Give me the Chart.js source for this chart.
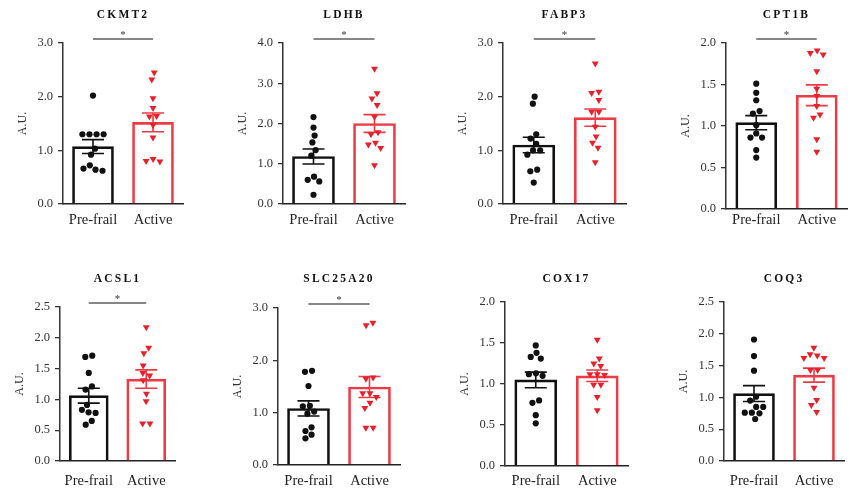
<!DOCTYPE html>
<html><head><meta charset="utf-8">
<script src="https://cdn.jsdelivr.net/npm/chart.js@4.4.1/dist/chart.umd.min.js"></script>
<style>
html,body{margin:0;padding:0;background:#fff;overflow:hidden;width:850px;height:492px;position:relative}
canvas{position:absolute}
</style></head><body>
<script>
// ---------- DATA ----------
const genes = ['CKMT2','LDHB','FABP3','CPT1B','ACSL1','SLC25A20','COX17','COQ3'];
const groups = ['Pre-frail','Active'];
const ckmt2Pre = [2.02,1.30,1.30,1.30,1.30,1.03,0.92,0.72,0.66,0.64,0.62];
const ckmt2Act = [2.45,2.32,1.97,1.79,1.64,1.63,1.47,1.24,0.84,0.79,0.80];
const ldhbPre = [2.16,1.90,1.70,1.53,1.34,1.20,0.68,0.60,0.56,0.23];
const ldhbAct = [3.36,2.75,2.62,2.46,2.17,1.78,1.73,1.52,1.48,1.39,0.96];
const fabp3Pre = [2.00,1.87,1.30,1.22,1.12,1.00,1.00,0.92,0.64,0.61,0.40];
const fabp3Act = [2.62,2.09,2.07,1.94,1.72,1.72,1.44,1.26,1.14,1.05,0.78];
const cpt1bPre = [1.51,1.40,1.31,1.18,1.15,1.01,0.91,0.86,0.86,0.71,0.62];
const cpt1bAct = [1.91,1.88,1.86,1.66,1.45,1.36,1.24,1.14,1.10,0.84,0.69];
const acsl1Pre = [1.71,1.69,1.43,1.21,1.16,0.91,0.83,0.79,0.78,0.65,0.59];
const acsl1Act = [2.17,1.84,1.75,1.55,1.43,1.39,1.31,1.09,0.97,0.61,0.61];
const slc25a20Pre = [1.80,1.78,1.51,1.13,1.12,1.02,0.98,0.72,0.65,0.58,0.51];
const slc25a20Act = [2.72,2.67,1.67,1.65,1.37,1.37,1.30,1.19,1.09,0.71,0.71];
const cox17Pre = [1.47,1.38,1.33,1.31,1.13,1.12,1.10,0.80,0.77,0.62,0.52];
const cox17Act = [1.54,1.31,1.25,1.22,1.12,1.12,1.11,0.99,0.99,0.84,0.68];
const coq3Pre = [1.91,1.65,1.42,1.01,0.95,0.85,0.85,0.76,0.76,0.75,0.66];
const coq3Act = [1.78,1.68,1.66,1.62,1.62,1.43,1.43,1.15,0.96,0.88,0.77];
const meanPre = [1.07,1.18,1.10,1.04,1.06,1.08,1.05,1.06];
const meanAct = [1.52,2.00,1.61,1.37,1.33,1.49,1.10,1.35];
const semPre = [0.13,0.185,0.145,0.085,0.12,0.145,0.095,0.125];
const semAct = [0.175,0.22,0.16,0.125,0.15,0.20,0.07,0.11];
const significant = [true,true,true,true,true,true,false,false];
const yMax = [3,4,3,2,2.5,3,2,2.5];
const yStep = [1,1,1,0.5,0.5,1,0.5,0.5];

const preSets = [ckmt2Pre,ldhbPre,fabp3Pre,cpt1bPre,acsl1Pre,slc25a20Pre,cox17Pre,coq3Pre];
const actSets = [ckmt2Act,ldhbAct,fabp3Act,cpt1bAct,acsl1Act,slc25a20Act,cox17Act,coq3Act];

// ---------- LAYOUT ----------
const boxes = [
 {ax:63, ae:185, top:43, bottom:204, row:0},
 {ax:283, ae:407, top:43, bottom:204, row:0},
 {ax:503, ae:628, top:43, bottom:204, row:0},
 {ax:726, ae:849, top:43, bottom:209, row:0},
 {ax:60, ae:177, top:307, bottom:461, row:1},
 {ax:278, ae:402, top:308, bottom:465, row:1},
 {ax:505, ae:630, top:302, bottom:466, row:1},
 {ax:724, ae:846, top:302, bottom:461, row:1}
];
const rowTop = [0,246], rowH = 246, titleY = [15,279], labelY = [219.5,480];
const BLACK = '#111', RED_PT = '#e8202a', RED_BAR = '#ee3a45';
const SERIF = '"Liberation Serif", "Times New Roman", serif';
const YW = 47, PADL = 7;

// beeswarm (deterministic layout of dots)
function swarm(vals, pxY, d){
  const n = vals.length, ys = vals.map(v => v*pxY);
  const order = [...vals.keys()].sort((a,b) => vals[b]-vals[a]);
  const xs = new Array(n); const placed = [];
  for (const i of order){
    const y = ys[i];
    const cands = [0];
    for (const j of placed){
      const dy = Math.abs(ys[j]-y);
      if (dy < d){ const dx = Math.sqrt(d*d-dy*dy); cands.push(xs[j]+dx, xs[j]-dx); }
    }
    cands.sort((a,b) => Math.abs(a)-Math.abs(b) || a-b);
    const x = cands.find(c => placed.every(j => Math.hypot(xs[j]-c, ys[j]-y) >= d-1e-6));
    xs[i] = x; placed.push(i);
  }
  let comp = [order[0]];
  const flush = () => {
    const v = comp.map(i => xs[i]);
    const s = (Math.min(...v)+Math.max(...v))/2;
    comp.forEach(i => xs[i] -= s);
  };
  for (let k=1;k<order.length;k++){
    if (ys[order[k-1]]-ys[order[k]] < d) comp.push(order[k]);
    else { flush(); comp = [order[k]]; }
  }
  flush();
  return xs;
}

const decor = {
  id: 'decor',
  afterDatasetDraw(chart, args, opts){
    if (args.index !== 0) return;
    const ctx = chart.ctx, y = chart.scales.y, x = chart.scales.x;
    const i = opts.idx;
    [[meanPre, semPre, BLACK],[meanAct, semAct, RED_BAR]].forEach(([m, s, col], g) => {
      const px = x.getPixelForValue(g);
      const y1 = y.getPixelForValue(m[i]+s[i]), y0 = y.getPixelForValue(m[i]-s[i]);
      ctx.save();
      ctx.strokeStyle = col; ctx.lineWidth = 1.6;
      ctx.beginPath();
      ctx.moveTo(px, y0); ctx.lineTo(px, y1);
      ctx.moveTo(px-11, y1); ctx.lineTo(px+11, y1);
      ctx.moveTo(px-11, y0); ctx.lineTo(px+11, y0);
      ctx.stroke();
      ctx.restore();
    });
  },
  afterDraw(chart, args, opts){
    const ctx = chart.ctx, a = chart.chartArea, i = opts.idx, x = chart.scales.x;
    const x0 = x.getPixelForValue(0), x1 = x.getPixelForValue(1);
    ctx.save();
    ctx.fillStyle = '#111';
    ctx.font = 'bold 11.5px ' + SERIF;
    ctx.letterSpacing = '2.2px';
    ctx.textAlign = 'center'; ctx.textBaseline = 'middle';
    ctx.fillText(genes[i], (a.left+a.right)/2, opts.titleY);
    ctx.letterSpacing = '0px';
    if (significant[i]){
      const by = a.top - 4;
      ctx.strokeStyle = '#111'; ctx.lineWidth = 1.2;
      ctx.beginPath();
      ctx.moveTo(x0, by); ctx.lineTo(x1, by);
      ctx.stroke();
      ctx.font = '11px ' + SERIF;
      ctx.textBaseline = 'alphabetic';
      ctx.fillStyle = '#333';
      ctx.fillText('*', (x0+x1)/2, by - 1.5);
    }
    ctx.restore();
  }
};

boxes.forEach((b, i) => {
  const cv = document.createElement('canvas');
  const left = b.ax - YW - PADL;
  const w = b.ae - left + 2;
  const t0 = rowTop[b.row];
  cv.width = w; cv.height = rowH;
  cv.style.left = left + 'px'; cv.style.top = t0 + 'px';
  cv.style.width = w + 'px'; cv.style.height = rowH + 'px';
  document.body.appendChild(cv);

  const pxY = (b.bottom - b.top) / yMax[i];
  const cw = (b.ae - b.ax) / 2;
  const pre = preSets[i], act = actSets[i];
  const sp = swarm(pre, pxY, 7.2), sa = swarm(act, pxY, 7.4);
  const prePts = pre.map((v,k) => ({x: 0 + sp[k]/cw, y: v}));
  const actPts = act.map((v,k) => ({x: 1 + sa[k]/cw, y: v}));
  const XH = rowTop[b.row] + rowH - b.bottom;

  new Chart(cv, {
    type: 'bar',
    data: {
      datasets: [
        {type:'bar', data:[{x:0, y:meanPre[i]}, {x:1, y:meanAct[i]}], backgroundColor:'rgba(255,255,255,0)',
         borderColor:[BLACK, RED_BAR], borderWidth:2, barThickness: Math.round(cw*0.67),
         order:2},
        {type:'scatter', data:prePts, pointStyle:'circle', pointRadius:3.1,
         pointBackgroundColor:BLACK, pointBorderColor:BLACK, pointBorderWidth:0, showLine:false, order:1},
        {type:'scatter', data:actPts, pointStyle:'triangle', pointRotation:180,
         pointRadius:4, pointBackgroundColor:RED_PT, pointBorderColor:RED_PT, pointBorderWidth:0, showLine:false, order:0}
      ]
    },
    options: {
      responsive:false, animation:false, devicePixelRatio:1,
      events: [],
      layout:{padding:{left:PADL, right:2, top:b.top - t0, bottom:0}},
      plugins:{legend:{display:false}, tooltip:{enabled:false}, title:{display:false},
        decor:{idx:i, titleY: titleY[b.row] - t0}},
      scales:{
        x:{type:'linear', min:-0.5, max:1.5, offset:false,
           afterBuildTicks(s){ s.ticks = [{value:0},{value:1}]; },
           grid:{display:true, drawOnChartArea:false, drawTicks:false, offset:false},
           border:{display:true, color:'#222', width:1.5},
           ticks:{font:{family:SERIF, size:14.5}, color:'#222', padding: labelY[b.row] - 8 - b.bottom,
             maxRotation:0, autoSkip:false, callback:v => groups[Math.round(v)]},
           afterFit(s){ s.height = XH; }},
        y:{type:'linear', min:0, max:yMax[i],
           ticks:{stepSize:yStep[i], callback:v => Number(v).toFixed(1), font:{family:SERIF, size:12.5}, color:'#333', padding:5},
           grid:{display:true, drawOnChartArea:false, drawTicks:true, tickLength:5, color:'#333', lineWidth:1.3},
           border:{display:true, color:'#333', width:1.5},
           title:{display:true, text:'A.U.', font:{family:SERIF, size:12}, color:'#333', padding:0},
           afterFit(s){ s.width = YW; }}
      }
    },
    plugins:[decor]
  });
});
</script>
</body></html>
